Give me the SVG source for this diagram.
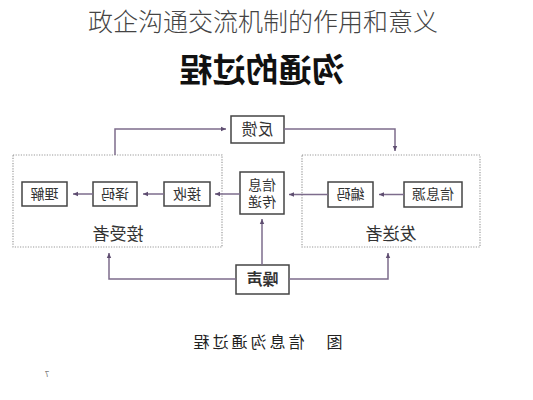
<svg xmlns="http://www.w3.org/2000/svg" width="533" height="400" viewBox="0 0 533 400">
<style>
text{font-family:"Noto Sans CJK SC","Noto Sans",sans-serif;text-anchor:middle;fill:#333}
.box{fill:#fff;stroke:#444;stroke-width:1.5}
.grp{fill:none;stroke:#9a9a9a;stroke-width:1.2;stroke-dasharray:1.2 1.4}
.con{fill:none;stroke:#7d6c8c;stroke-width:1.5}
.lbl{font-size:14px}
</style>
<defs>
<marker id="ah" markerWidth="6" markerHeight="6" refX="5" refY="3" orient="auto" markerUnits="userSpaceOnUse">
<path d="M0,0.8 L5,3 L0,5.2 Z" fill="#5e4d70"/>
</marker>
</defs>
<rect width="533" height="400" fill="#fff"/>
<text x="263" y="31" style="font-size:25px;font-weight:300;fill:#444">政企沟通交流机制的作用和意义</text>
<text transform="matrix(-1 0 0 1 524 0)" x="262" y="82" style="font-size:33px;font-weight:bold;fill:#111">沟通的过程</text>

<g id="receiver">
<rect class="grp" x="13" y="155" width="209" height="92"/>
<text transform="matrix(-1 0 0 1 236 0)" x="118" y="240" style="font-size:17px">接受者</text>
</g>
<g id="sender">
<rect class="grp" x="302" y="155" width="178" height="92"/>
<text transform="matrix(-1 0 0 1 782 0)" x="391" y="240" style="font-size:17px">发送者</text>
</g>
<g id="feedback">
<rect class="box" x="231" y="116" width="53" height="27"/>
<text class="lbl" transform="matrix(-1 0 0 1 515 0)" x="257.5" y="135" style="font-size:16px">反馈</text>
</g>
<g id="understand">
<rect class="box" x="22" y="182" width="45" height="24"/>
<text class="lbl" transform="matrix(-1 0 0 1 89 0)" x="44.5" y="199">理解</text>
</g>
<g id="decode">
<rect class="box" x="93" y="182" width="44" height="24"/>
<text class="lbl" transform="matrix(-1 0 0 1 230 0)" x="115" y="199">译码</text>
</g>
<g id="receive">
<rect class="box" x="164" y="182" width="46" height="24"/>
<text class="lbl" transform="matrix(-1 0 0 1 374 0)" x="187" y="199">接收</text>
</g>
<g id="transmit">
<rect class="box" x="240" y="172" width="44" height="42"/>
<text class="lbl" transform="matrix(-1 0 0 1 524 0)" x="262" y="190">信息</text>
<text class="lbl" transform="matrix(-1 0 0 1 524 0)" x="262" y="207">传递</text>
</g>
<g id="encode">
<rect class="box" x="328" y="182" width="45" height="25"/>
<text class="lbl" transform="matrix(-1 0 0 1 701 0)" x="350.5" y="199">编码</text>
</g>
<g id="source">
<rect class="box" x="404" y="182" width="58" height="25"/>
<text class="lbl" transform="matrix(-1 0 0 1 866 0)" x="433" y="199">信息源</text>
</g>
<g id="noise">
<rect class="box" x="236" y="265" width="53" height="29"/>
<text transform="matrix(-1 0 0 1 525 0)" x="262.5" y="285" style="font-size:16px;font-weight:bold">噪声</text>
</g>

<g id="connectors">
<path class="con" d="M284,129 H395 V151" marker-end="url(#ah)"/>
<path class="con" d="M115,155 V129 H226" marker-end="url(#ah)"/>
<path class="con" d="M404,194.5 H379" marker-end="url(#ah)"/>
<path class="con" d="M328,194.5 H289" marker-end="url(#ah)"/>
<path class="con" d="M240,194 H215" marker-end="url(#ah)"/>
<path class="con" d="M164,194 H143" marker-end="url(#ah)"/>
<path class="con" d="M93,194 H73" marker-end="url(#ah)"/>
<path class="con" d="M262,265 V219" marker-end="url(#ah)"/>
<path class="con" d="M236,279 H109 V253" marker-end="url(#ah)"/>
<path class="con" d="M289,279 H388 V253" marker-end="url(#ah)"/>
</g>

<text transform="matrix(-1 0 0 1 533 0)" x="266.5" y="348" style="font-size:16px;fill:#222;letter-spacing:3px">图　信息沟通过程</text>
<text transform="matrix(-1 0 0 1 94 0)" x="47" y="377" style="font-size:8px;fill:#777">7</text>
</svg>
